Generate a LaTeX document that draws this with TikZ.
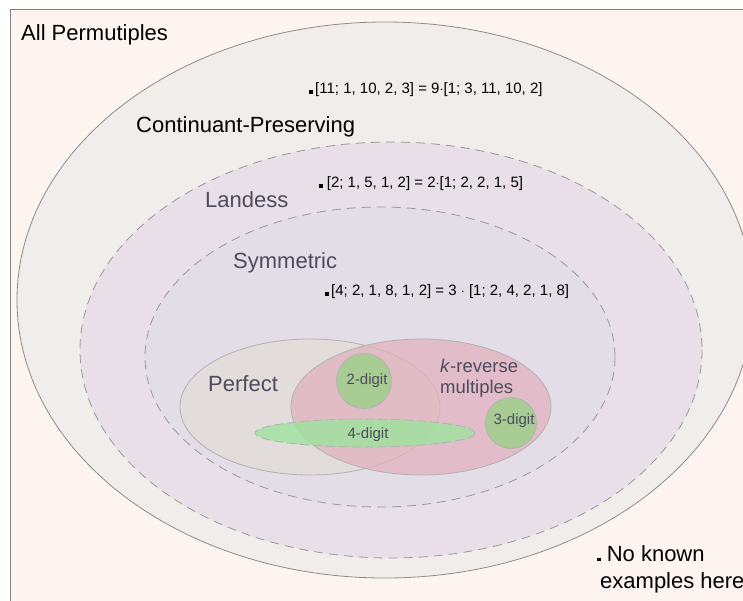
\documentclass[tikz,border=0pt]{standalone}
\usepackage{fontspec}
\setmainfont{Liberation Sans}
\usepackage{xcolor}
\usetikzlibrary{positioning}

\definecolor{bgpink}{HTML}{FDF4F0}
\definecolor{cpgrey}{HTML}{F1EDEA}
\definecolor{landmauve}{HTML}{E9DFE8}
\definecolor{symlav}{HTML}{E2DDE6}
\definecolor{perfbeige}{HTML}{E2DCDA}
\definecolor{krevpink}{HTML}{E2B2BF}
\definecolor{digitgreen}{HTML}{A8CC94}
\definecolor{lightgreen}{HTML}{9EE39E}
\definecolor{labelgrey}{HTML}{4C4C5C}

\newcommand{\sqbullet}{\rule{3.5pt}{3.5pt}}

\begin{document}
\begin{tikzpicture}[x=1pt,y=-1pt]
  % 定义样式
  \tikzset{setline/.style = {draw=black!45, line width=0.8pt}}
  \tikzset{dashline/.style = {draw=black!40, line width=0.8pt, dash pattern=on 9pt off 6pt}}
  \tikzset{biglabel/.style = {anchor=west, inner sep=0pt, font=\fontsize{22}{26.4}\selectfont}}
  \tikzset{setlabel/.style = {biglabel, text=labelgrey}}
  \tikzset{example/.style = {anchor=west, inner sep=0pt, font=\fontsize{15}{18}\selectfont}}
  \tikzset{digit/.style = {inner sep=0pt, text=labelgrey, font=\fontsize{15}{18}\selectfont}}

  \useasboundingbox (0,0) rectangle (743,600);

  % 背景
  \draw[fill=bgpink, draw=black!50, line width=0.8pt] (10,9) rectangle (780,640);

  % 定义集合
  \draw[setline, fill=cpgrey] (385,300) ellipse [x radius=368, y radius=278];
  \draw[dashline, fill=landmauve] (391,350) ellipse [x radius=311, y radius=208];
  \draw[dashline, fill=symlav] (380,357) ellipse [x radius=235, y radius=150];
  \draw[setline, draw=black!30, fill=perfbeige] (310,407) ellipse [x radius=130, y radius=68];
  \draw[setline, draw=black!30, fill=krevpink, fill opacity=0.75] (421,407) ellipse [x radius=130, y radius=68];
  \draw[setline, draw=black!30, fill=digitgreen] (364,381) circle [radius=27.5];
  \draw[setline, draw=black!30, fill=digitgreen] (511,423) circle [radius=25.5];
  \draw[dashline, draw=black!30, dash pattern=on 9pt off 4pt, fill=lightgreen, fill opacity=0.8] (365,433) ellipse [x radius=110, y radius=14];

  % 定义标签
  \node[biglabel] (allp) at (21,35) {All Permutiples};
  \node[biglabel] (contp) at (136,127) {Continuant-Preserving};
  \node[setlabel] (land) at (205,200) {Landess};
  \node[setlabel] (symm) at (233,263) {Symmetric};
  \node[setlabel] (perf) at (208,384) {Perfect};
  \node[anchor=north west, inner sep=0pt, align=left, text=labelgrey,
        font=\fontsize{18.5}{20.5}\selectfont] (krev) at (440,359) {\textit{k}-reverse\\multiples};
  \node[digit] (two) at (367,381) {2-digit};
  \node[digit] (three) at (514,421) {3-digit};
  \node[digit] (four) at (368,435) {4-digit};

  % 例子
  \node[example] (exa) at (309,90) {\sqbullet\,[11; 1, 10, 2, 3] = 9$\cdot$[1; 3, 11, 10, 2]};
  \node[example] (exb) at (319,184) {\sqbullet\ [2; 1, 5, 1, 2] = 2$\cdot$[1; 2, 2, 1, 5]};
  \node[example] (exc) at (325,292) {\sqbullet\,[4; 2, 1, 8, 1, 2] = 3 $\cdot$ [1; 2, 4, 2, 1, 8]};
  \node[anchor=north west, inner sep=0pt, align=left,
        font=\fontsize{22}{27}\selectfont] (none) at (597,545) {\sqbullet\ No known\\\hspace*{3pt}examples here};
\end{tikzpicture}
\end{document}
